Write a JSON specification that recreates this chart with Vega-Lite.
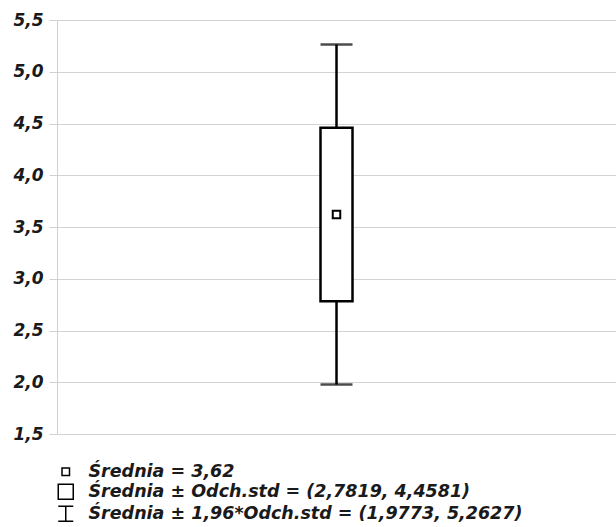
{
  "$schema": "https://vega.github.io/schema/vega-lite/v6.json",
  "width": 559,
  "height": 414,
  "autosize": {"type": "none"},
  "padding": {"left": 57, "top": 20, "right": 0, "bottom": 93},
  "background": "white",
  "config": {
    "view": {"stroke": null},
    "font": "DejaVu Sans"
  },
  "datasets": {
    "stats": [
      {"grupa": "A", "srednia": 3.62, "sd_lo": 2.7819, "sd_hi": 4.4581, "ci_lo": 1.9773, "ci_hi": 5.2627, "opis": "Średnia = 3,62"}
    ]
  },
  "data": {"name": "stats"},
  "encoding": {
    "x": {"field": "grupa", "type": "nominal", "axis": null, "scale": {"type": "band"}}
  },
  "layer": [
    {
      "mark": {"type": "rule", "color": "black", "strokeWidth": 2.5},
      "encoding": {
        "y": {
          "field": "ci_lo", "type": "quantitative",
          "scale": {"domain": [1.5, 5.5], "nice": false, "zero": false},
          "axis": {
            "title": null,
            "values": [1.5, 2, 2.5, 3, 3.5, 4, 4.5, 5, 5.5],
            "labelExpr": "replace(format(datum.value, '.1f'), '.', ',')",
            "labelFont": "DejaVu Sans",
            "labelFontSize": 17,
            "labelFontStyle": "italic",
            "labelFontWeight": "bold",
            "labelColor": "#1a1a1a",
            "labelPadding": 6,
            "tickSize": 8,
            "tickColor": "#d0d0d0",
            "domainColor": "#d0d0d0",
            "gridColor": "#d3d3d3",
            "grid": true
          }
        },
        "y2": {"field": "ci_hi"}
      }
    },
    {
      "mark": {"type": "bar", "width": 32, "fill": "white", "stroke": "black", "strokeWidth": 2.5},
      "encoding": {
        "y": {"field": "sd_lo", "type": "quantitative"},
        "y2": {"field": "sd_hi"}
      }
    },
    {
      "mark": {"type": "tick", "color": "black", "size": 32, "thickness": 2.5},
      "encoding": {"y": {"field": "ci_lo", "type": "quantitative"}}
    },
    {
      "mark": {"type": "tick", "color": "black", "size": 32, "thickness": 2.5},
      "encoding": {"y": {"field": "ci_hi", "type": "quantitative"}}
    },
    {
      "mark": {"type": "point", "filled": false, "fill": "white", "stroke": "black", "strokeWidth": 2, "opacity": 1, "size": 225},
      "encoding": {
        "y": {"field": "srednia", "type": "quantitative"},
        "shape": {
          "field": "opis",
          "type": "nominal",
          "scale": {
            "domain": [
              "Średnia = 3,62",
              "Średnia ± Odch.std = (2,7819, 4,4581)",
              "Średnia ± 1,96*Odch.std = (1,9773, 5,2627)"
            ],
            "range": [
              "M-0.5,-0.5H0.5V0.5H-0.5Z",
              "M-1,-1H1V1H-1Z",
              "M-1,-1H1M0,-1V1M-1,1H1"
            ]
          },
          "legend": {
            "title": null,
            "orient": "none",
            "legendX": 0,
            "legendY": 443,
            "direction": "vertical",
            "symbolSize": 225,
            "labelFont": "DejaVu Sans",
            "labelFontSize": 17.5,
            "labelFontStyle": "italic",
            "labelFontWeight": "bold",
            "labelColor": "#1a1a1a",
            "labelOffset": 14,
            "labelLimit": 0,
            "rowPadding": 0,
            "encode": {
              "symbols": {
                "update": {
                  "stroke": {"value": "black"},
                  "strokeWidth": {"value": 2},
                  "fill": {"value": "white"},
                  "opacity": {"value": 1}
                }
              }
            }
          }
        }
      }
    }
  ]
}
